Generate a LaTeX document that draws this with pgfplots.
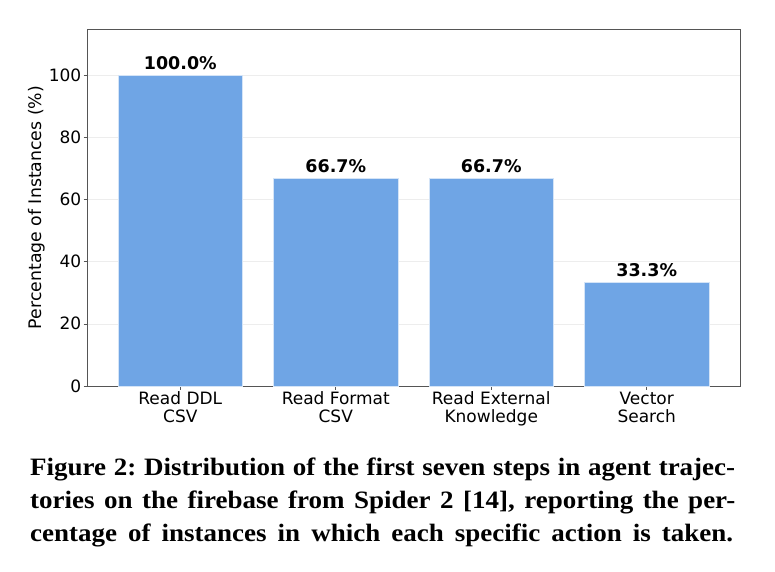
\documentclass[border=0pt]{standalone}
\usepackage{fontspec}
\setmainfont{DejaVu Sans}
\newfontfamily\capfont[FakeStretch=1.08]{Liberation Serif}
\usepackage{pgfplots}
\pgfplotsset{compat=1.18}
\definecolor{barblue}{RGB}{111,165,229}
\definecolor{framegray}{RGB}{85,85,85}
\newcommand{\capline}[1]{\makebox[705pt][s]{#1}}
\begin{document}
\begin{tikzpicture}[x=1pt,y=1pt]
\path[use as bounding box] (0,0) rectangle (775,571);
\begin{axis}[
    at={(87pt,185pt)}, anchor=south west,
    scale only axis,
    width=653pt, height=357pt,
    ybar, bar width=0.8,
    bar shift=0pt,
    xmin=-0.6, xmax=3.6,
    ymin=0, ymax=114.8,
    xtick=data,
    xticklabels={{Read DDL\\CSV},{Read Format\\CSV},{Read External\\Knowledge},{Vector\\Search}},
    xticklabel style={align=center, font=\fontsize{17}{18}\selectfont, inner sep=2pt},
    ytick={0,20,40,60,80,100},
    yticklabel style={font=\fontsize{17}{18}\selectfont, inner sep=2pt},
    /pgf/number format/assume math mode=true,
    ylabel={Percentage of Instances (\%)},
    ylabel style={font=\fontsize{17.3}{18}\selectfont, at={(axis description cs:-0.077,0.5)}, anchor=center},
    ymajorgrids,
    grid style={draw=black!7, line width=0.6pt},
    axis line style={draw=framegray, line width=0.8pt},
    tick style={draw=framegray, line width=0.6pt},
    tick align=outside,
    major tick length=3.5pt,
    xtick pos=bottom, ytick pos=left,
    nodes near coords={\pgfmathprintnumber[fixed,fixed zerofill,precision=1]{\pgfplotspointmeta}\%},
    every node near coord/.append style={font=\bfseries\fontsize{17.5}{18}\selectfont, black, yshift=2pt},
  ]
\addplot[fill=barblue, draw=white!70!barblue, line width=0.5pt] coordinates {
    (0,100.0)
    (1,66.7)
    (2,66.7)
    (3,33.3)
  };
\end{axis}
\node[anchor=north west, inner sep=0pt, align=left,
      font=\capfont\bfseries\frenchspacing\fontsize{25}{33}\selectfont] at (30,113)
  {\capline{Figure 2: Distribution of the first seven steps in agent trajec-}\\
   \capline{tories on the firebase from Spider 2 [14], reporting the per-}\\
   \makebox[703pt][s]{centage of instances in which each specific action is taken.}};
\end{tikzpicture}
\end{document}
